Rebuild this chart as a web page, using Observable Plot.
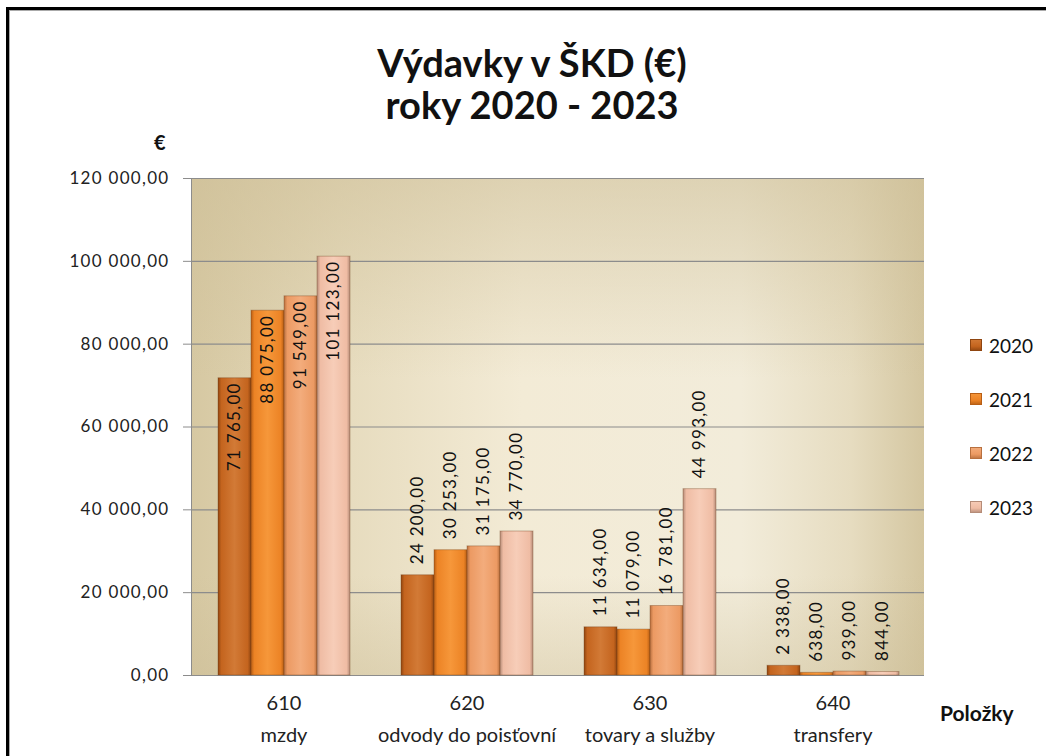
<!DOCTYPE html>
<html>
<head>
<meta charset="utf-8">
<script src="https://cdn.jsdelivr.net/npm/d3@7"></script>
<script src="https://cdn.jsdelivr.net/npm/@observablehq/plot@0.6"></script>
<style>
  html, body { margin: 0; padding: 0; background: #fff; overflow: hidden; width: 1046px; height: 756px; }
  body { position: relative; font-family: Lato, "Open Sans", sans-serif; }
  #frame { position: absolute; left: 6px; top: 7px; width: 1200px; height: 900px; border-left: 3px solid #000; border-top: 3px solid #000; box-shadow: inset 1px 1px 0 #aaa; }
  #bg { position: absolute; left: 192px; top: 178px; width: 732px; height: 497px;
        background:
          linear-gradient(to bottom, rgba(200,185,145,0) 0%, rgba(200,185,145,0) 80%, rgba(200,185,145,0.35) 100%),
          linear-gradient(to right, #d6c8a2 0%, #e6dbbd 20%, #f3ebd6 45%, #f2ecda 75%, #e6dcc0 90%, #d4c6a0 100%); }
  #bgtop { position: absolute; left: 192px; top: 178px; width: 732px; height: 200px;
        background: linear-gradient(to bottom, rgba(205,190,150,0.55), rgba(205,190,150,0)); }
  #chart { position: absolute; left: 0; top: 0; }
  .title { position: absolute; left: 0; width: 1064px; text-align: center; font-weight: bold; font-size: 38px; line-height: 38px; color: #111; }
  .lbl { position: absolute; font-weight: bold; color: #111; line-height: 1; }
  #legend { position: absolute; left: 970px; top: 333px; }
  .item { display: flex; align-items: center; font-size: 19px; color: #111; height: 24px; margin-bottom: 30px; }
  .item span.sw { width: 12px; height: 12px; display: inline-block; margin-right: 7px; }
</style>
</head>
<body>
<div id="frame"></div>
<div id="bg"></div>
<div id="bgtop"></div>
<div id="chart"></div>
<div class="title" style="top:43px">Výdavky v ŠKD (€)</div>
<div class="title" style="top:85px">roky 2020 - 2023</div>
<div class="lbl" style="left:154px; top:132px; font-size:20px">€</div>
<div class="lbl" style="left:940px; top:702px; font-size:21px">Položky</div>
<div id="legend"></div>
<script>
// ---- data ----
const codes = ["610", "620", "630", "640"];
const names = ["mzdy", "odvody do poisťovní", "tovary a služby", "transfery"];
const years = ["2020", "2021", "2022", "2023"];
const v2020 = [71765, 24200, 11634, 2338];
const v2021 = [88075, 30253, 11079, 638];
const v2022 = [91549, 31175, 16781, 939];
const v2023 = [101123, 34770, 44993, 844];
const yTicks = [0, 20000, 40000, 60000, 80000, 100000, 120000];

const baseColors = ["#c4641e", "#ec8325", "#ec9a63", "#efbca4"];
const edgeColors = ["#8f4510", "#b85e14", "#b8703f", "#b58c78"];
const lightColors = ["#d27a36", "#f6973a", "#f3ac7c", "#f7cdb8"];

const series = [v2020, v2021, v2022, v2023];
const data = [];
codes.forEach((c, i) => years.forEach((y, j) => data.push({code: c, year: y, value: series[j][i]})));

const loc = d3.formatLocale({decimal: ",", thousands: "\u00a0", grouping: [3], currency: ["", ""]});
const fmt = loc.format(",.2f");

const inside = data.filter(d => d.value > 60000);
const outside = data.filter(d => d.value <= 60000);

const plot = Plot.plot({
  width: 1046,
  height: 756,
  marginLeft: 192,
  marginRight: 122,
  marginTop: 178,
  marginBottom: 81,
  style: {background: "transparent", fontFamily: "Lato, 'Open Sans', sans-serif"},
  fx: {domain: codes, padding: 0, label: null},
  x: {domain: years, paddingInner: 0, paddingOuter: 0.74, axis: null},
  y: {domain: [0, 120000], label: null},
  color: {type: "ordinal", domain: years, range: years.map(y => `url(#g${y})`)},
  marks: [
    Plot.gridY(yTicks, {stroke: "#8c8c8c", strokeOpacity: 1, strokeWidth: 1.2}),
    Plot.barY(data, {fx: "code", x: "year", y: "value", fill: "year", stroke: "#6b3a18", strokeOpacity: 0.35, strokeWidth: 1, inset: 0}),
    Plot.text(inside, {fx: "code", x: "year", y: "value", text: d => fmt(d.value), rotate: -90, textAnchor: "end", dy: 4, fontSize: 17, fill: "#111", className: "spaced"}),
    Plot.text(outside, {fx: "code", x: "year", y: "value", text: d => fmt(d.value), rotate: -90, textAnchor: "start", dy: -11, fontSize: 17, fill: "#111", className: "spaced"}),
    Plot.axisY({ticks: yTicks, tickFormat: fmt, tickSize: 9, tickPadding: 14, fontSize: 17, stroke: "#8c8c8c", color: "#222", label: null, className: "spaced"}),
    Plot.axisFx({anchor: "bottom", tickSize: 0, tickPadding: 12, lineHeight: 1.6, fontSize: 20, color: "#222", label: null,
                 tickFormat: d => d + "\n" + names[codes.indexOf(d)]})
  ]
});

// gradients for bevelled bars
const svg = d3.select(plot);
const defs = svg.insert("defs", ":first-child");
years.forEach((y, i) => {
  const g = defs.append("linearGradient").attr("id", `g${y}`).attr("x1", 0).attr("x2", 1).attr("y1", 0).attr("y2", 0);
  g.append("stop").attr("offset", "0%").attr("stop-color", edgeColors[i]);
  g.append("stop").attr("offset", "10%").attr("stop-color", baseColors[i]);
  g.append("stop").attr("offset", "50%").attr("stop-color", lightColors[i]);
  g.append("stop").attr("offset", "90%").attr("stop-color", baseColors[i]);
  g.append("stop").attr("offset", "100%").attr("stop-color", edgeColors[i]);
});
svg.selectAll(".spaced text").style("letter-spacing", "1.3px");
document.getElementById("chart").appendChild(plot);

// axis line
const yl = document.createElement("div");
yl.style.cssText = "position:absolute;left:191px;top:178px;width:1px;height:498px;background:#8c8c8c";
document.body.appendChild(yl);

// legend
const leg = document.getElementById("legend");
years.forEach((y, i) => {
  const it = document.createElement("div");
  it.className = "item";
  it.innerHTML = `<span class="sw" style="background:linear-gradient(to bottom, ${lightColors[i]}, ${baseColors[i]} 60%, ${edgeColors[i]}); box-shadow: inset 0 0 0 1px ${edgeColors[i]}"></span>${y}`;
  leg.appendChild(it);
});
</script>
</body>
</html>
